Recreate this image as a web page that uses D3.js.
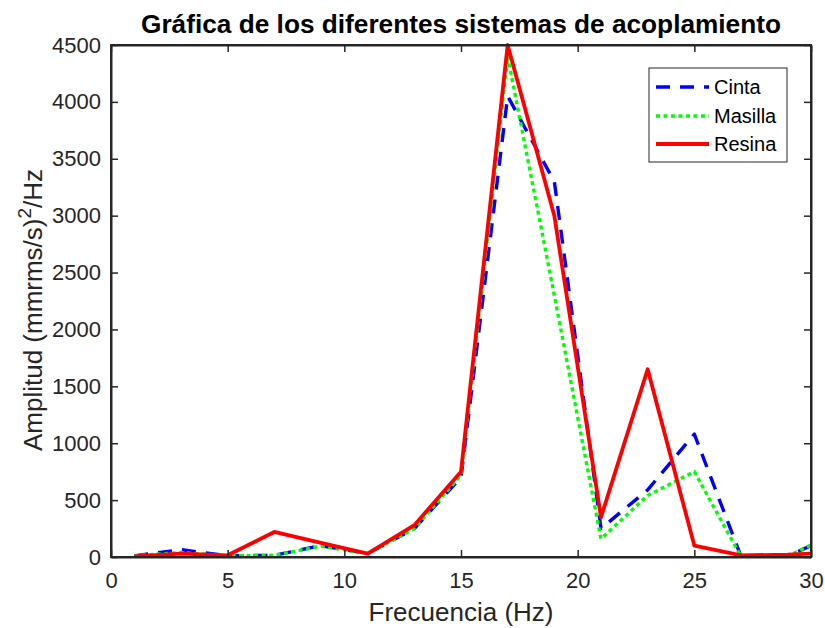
<!DOCTYPE html>
<html><head><meta charset="utf-8">
<script src="https://cdn.jsdelivr.net/npm/d3@7"></script>
<style>body{margin:0;background:#fff}svg{display:block}text{font-family:"Liberation Sans",Arial,sans-serif}</style>
</head><body>
<script>
const freq = [1,3,5,7,9,11,13,15,17,19,21,23,25,27,29,30];
const cinta = [10,65,10,15,100,30,250,700,4050,3300,250,590,1080,5,5,100];
const masilla = [10,40,10,15,95,30,250,720,4400,2300,160,540,750,5,5,105];
const resina = [5,30,15,220,125,30,280,750,4500,3000,350,1650,100,15,20,30];
const xTicks = [0,5,10,15,20,25,30];
const yTicks = [0,500,1000,1500,2000,2500,3000,3500,4000,4500];
const seriesNames = ["Cinta","Masilla","Resina"];

const W=825,H=628;
const m={l:111,r:14,t:45,b:71};
const svg=d3.select("body").append("svg").attr("width",W).attr("height",H);
const x=d3.scaleLinear().domain([0,30]).range([m.l,W-m.r]);
const y=d3.scaleLinear().domain([0,4500]).range([H-m.b,m.t]);
const ink="#262626";

svg.append("defs").append("clipPath").attr("id","clip").append("rect")
 .attr("x",m.l).attr("y",m.t-2).attr("width",W-m.r-m.l).attr("height",H-m.b-m.t+2);

const styles=[
 {data:cinta,color:"#0000ff",dash:"14,10",w:3.4},
 {data:masilla,color:"#00ff00",dash:"4,3.5",w:3.4},
 {data:resina,color:"#ff0000",dash:null,w:3.8}
];
const line=d3.line().x((d,i)=>x(freq[i])).y(d=>y(d));
const g=svg.append("g").attr("clip-path","url(#clip)");
styles.forEach(s=>{
 g.append("path").attr("d",line(s.data)).attr("fill","none").attr("stroke",s.color)
  .attr("stroke-width",s.w).attr("stroke-dasharray",s.dash).attr("stroke-linejoin","round");
});

// axes
const fs=22;
const xa=svg.append("g").attr("transform",`translate(0,${H-m.b})`)
 .call(d3.axisBottom(x).tickValues(xTicks).tickSizeInner(-7).tickSizeOuter(0).tickPadding(15));
const xt=svg.append("g").attr("transform",`translate(0,${m.t})`)
 .call(d3.axisTop(x).tickValues(xTicks).tickSizeInner(-7).tickSizeOuter(0).tickFormat(""));
const ya=svg.append("g").attr("transform",`translate(${m.l},0)`)
 .call(d3.axisLeft(y).tickValues(yTicks).tickSizeInner(-7).tickSizeOuter(0).tickPadding(10).tickFormat(d3.format("d")));
const yr=svg.append("g").attr("transform",`translate(${W-m.r},0)`)
 .call(d3.axisRight(y).tickValues(yTicks).tickSizeInner(-7).tickSizeOuter(0).tickFormat(""));
[xa,xt,ya,yr].forEach(a=>{
 a.selectAll("path").attr("stroke",ink).attr("stroke-width",2);
 a.selectAll("line").attr("stroke",ink).attr("stroke-width",1.5);
 a.selectAll("text").attr("fill",ink).style("font-size",fs+"px").style("font-family",'"Liberation Sans",Arial,sans-serif');
});
svg.append("rect").attr("x",m.l).attr("y",m.t).attr("width",W-m.r-m.l).attr("height",H-m.b-m.t)
 .attr("fill","none").attr("stroke",ink).attr("stroke-width",2);

// title
svg.append("text").attr("x",(m.l+W-m.r)/2).attr("y",33).attr("text-anchor","middle")
 .style("font-size","26px").style("font-weight","bold").attr("fill","#000")
 .attr("textLength",640).attr("lengthAdjust","spacingAndGlyphs")
 .text("Gráfica de los diferentes sistemas de acoplamiento");
// x label
svg.append("text").attr("x",461).attr("y",621).attr("text-anchor","middle")
 .style("font-size","25px").attr("fill",ink)
 .attr("textLength",185).attr("lengthAdjust","spacingAndGlyphs")
 .text("Frecuencia (Hz)");
// y label
const yl=svg.append("text").attr("transform",`translate(42,310) rotate(-90)`)
 .attr("text-anchor","middle").style("font-size","26px").attr("fill",ink);
yl.append("tspan").text("Amplitud (mmrms/s)");
yl.append("tspan").attr("dy",-11).style("font-size","19px").text("2");
yl.append("tspan").attr("dy",11).text("/Hz");

// legend
const lg=svg.append("g");
lg.append("rect").attr("x",649).attr("y",68).attr("width",138).attr("height",94)
 .attr("fill","#fff").attr("stroke",ink).attr("stroke-width",1);
const rows=[87,116,144];
styles.forEach((s,i)=>{
 lg.append("line").attr("x1",656).attr("x2",709).attr("y1",rows[i]).attr("y2",rows[i])
  .attr("stroke",s.color).attr("stroke-width",s.w).attr("stroke-dasharray",s.dash);
 lg.append("text").attr("x",714).attr("y",rows[i]+7).style("font-size","20px").attr("fill","#000").text(seriesNames[i]);
});
</script>
</body></html>
